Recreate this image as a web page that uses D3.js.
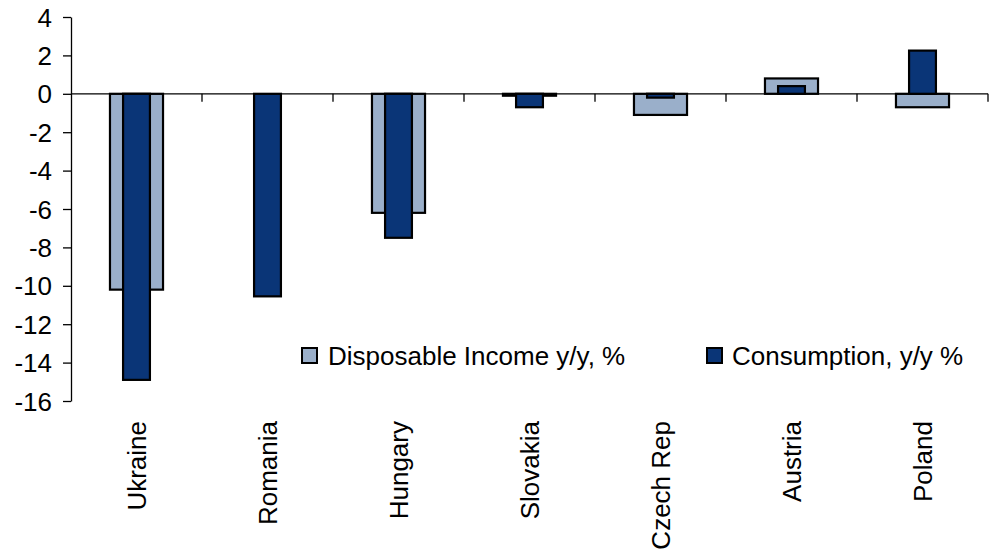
<!DOCTYPE html>
<html>
<head>
<meta charset="utf-8">
<script src="https://cdn.jsdelivr.net/npm/d3@7"></script>
<style>
  html, body { margin: 0; padding: 0; background: #fff; }
  svg { display: block; font-family: Arial, "Liberation Sans", sans-serif; }
</style>
</head>
<body>
<svg id="chart" width="991" height="554"></svg>
<script>
// Countries on the x axis
const categories = ["Ukraine", "Romania", "Hungary", "Slovakia", "Czech Rep", "Austria", "Poland"];
// Disposable income, y/y % (Romania not reported)
const incomeValues = [-10.2, null, -6.2, -0.1, -1.1, 0.8, -0.7];
// Consumption, y/y %
const consumptionValues = [-14.9, -10.55, -7.5, -0.7, -0.2, 0.4, 2.25];
// Y axis ticks
const yTicks = [4, 2, 0, -2, -4, -6, -8, -10, -12, -14, -16];
const seriesNames = ["Disposable Income y/y, %", "Consumption, y/y %"];
const seriesColors = ["#9AAFCA", "#0A3577"];

const svg = d3.select("#chart");
const plotLeft = 71, plotRight = 988, plotTop = 17, plotBottom = 401;
const fontSize = 26;

const x = d3.scaleBand().domain(categories).range([plotLeft, plotRight]).padding(0);
const y = d3.scaleLinear().domain([-16, 4]).range([plotBottom, plotTop]);

// Y axis (plain hyphen for negatives)
const yAxis = svg.append("g")
  .attr("transform", `translate(${plotLeft},0)`)
  .call(d3.axisLeft(y).tickValues(yTicks).tickSize(8).tickPadding(11).tickSizeOuter(0)
    .tickFormat(d => String(d)));
yAxis.select(".domain").attr("stroke", "#000").attr("stroke-width", 1.3);
yAxis.selectAll(".tick line").attr("stroke", "#000").attr("stroke-width", 1.3);
yAxis.selectAll(".tick text").attr("font-size", fontSize).attr("fill", "#000")
  .attr("font-family", "Arial, 'Liberation Sans', sans-serif").attr("dy", "0.35em");

function barRect(v, w, cx) {
  const y0 = y(0), y1 = y(v);
  return { x: cx - w / 2, y: Math.min(y0, y1), w: w, h: Math.abs(y1 - y0) };
}

const band = x.bandwidth();
const wideW = band * 0.405, narrowW = band * 0.205;

// Income bars (wide, behind)
const incomeData = categories.map((c, i) => ({ c, v: incomeValues[i] })).filter(d => d.v !== null);
svg.append("g").selectAll("rect").data(incomeData).join("rect")
  .each(function (d) {
    const r = barRect(d.v, wideW, x(d.c) + band / 2);
    d3.select(this).attr("x", r.x).attr("y", r.y).attr("width", r.w).attr("height", r.h);
  })
  .attr("fill", seriesColors[0]).attr("stroke", "#000").attr("stroke-width", 2.2);

// Consumption bars (narrow, in front)
const consData = categories.map((c, i) => ({ c, v: consumptionValues[i] }));
svg.append("g").selectAll("rect").data(consData).join("rect")
  .each(function (d) {
    const r = barRect(d.v, narrowW, x(d.c) + band / 2);
    d3.select(this).attr("x", r.x).attr("y", r.y).attr("width", r.w).attr("height", r.h);
  })
  .attr("fill", seriesColors[1]).attr("stroke", "#000").attr("stroke-width", 2.2);

// Category axis on the zero line, ticks between categories
const zeroY = y(0);
svg.append("line").attr("x1", plotLeft).attr("x2", plotRight).attr("y1", zeroY).attr("y2", zeroY)
  .attr("stroke", "#000").attr("stroke-width", 1.3);
svg.append("g").selectAll("line").data(categories).join("line")
  .attr("x1", d => x(d) + band).attr("x2", d => x(d) + band)
  .attr("y1", zeroY).attr("y2", zeroY + 8)
  .attr("stroke", "#000").attr("stroke-width", 1.3);

// Rotated category labels below the plot
svg.append("g").selectAll("text").data(categories).join("text")
  .attr("transform", d => `translate(${x(d) + band / 2},421) rotate(-90)`)
  .attr("text-anchor", "end").attr("dy", "0.36em")
  .attr("font-size", fontSize).attr("fill", "#000")
  .text(d => d);

// Legend
const legendItems = [
  { name: seriesNames[0], color: seriesColors[0], sx: 302, tx: 328 },
  { name: seriesNames[1], color: seriesColors[1], sx: 707, tx: 732 }
];
const lg = svg.append("g");
lg.selectAll("rect").data(legendItems).join("rect")
  .attr("x", d => d.sx).attr("y", 348).attr("width", 15).attr("height", 15)
  .attr("fill", d => d.color).attr("stroke", "#000").attr("stroke-width", 2);
lg.selectAll("text").data(legendItems).join("text")
  .attr("x", d => d.tx).attr("y", 365)
  .attr("font-size", fontSize).attr("fill", "#000")
  .text(d => d.name);
</script>
</body>
</html>
